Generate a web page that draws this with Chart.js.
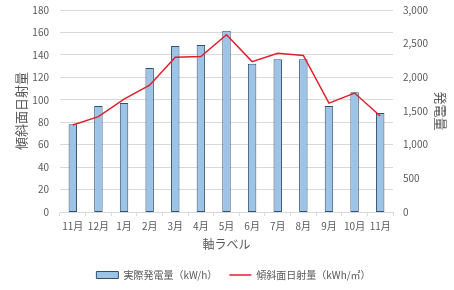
<!DOCTYPE html>
<html>
<head>
    <meta charset="utf-8">
    <title>発電量と傾斜面日射量</title>
    <script src="https://cdn.jsdelivr.net/npm/chart.js"></script>
    <style>
        body {
            margin: 0;
            background: #ffffff;
        }
        #box {
            width: 454px;
            height: 290px;
        }
    </style>
</head>
<body>
    <div id="box"><canvas id="chart"></canvas></div>
    <script>
        // データ
        const months = ["11月", "12月", "1月", "2月", "3月", "4月", "5月", "6月", "7月", "8月", "9月", "10月", "11月"];
        const hatsuden = [1305, 1575, 1620, 2140, 2465, 2480, 2690, 2200, 2270, 2270, 1575, 1780, 1470];
        const nissha = [77.5, 85, 100.5, 113, 138, 138.5, 158, 134, 141.5, 139.5, 97, 106, 85.5];
        const leftTicks = [0, 20, 40, 60, 80, 100, 120, 140, 160, 180];
        const rightTicks = [0, 500, 1000, 1500, 2000, 2500, 3000];

        const textColor = '#595959';
        const gridColor = '#d9d9d9';
        const jpFont = '"Noto Sans CJK JP", "Noto Sans", sans-serif';

        // 縦軸の余白をなくしてプロット上端を揃える
        function noVerticalPadding(scale) {
            scale.paddingTop = 0;
            scale.paddingBottom = 0;
        }

        const ctx = document.getElementById('chart').getContext('2d');
        const chart = new Chart(ctx, {
            data: {
                labels: months,
                datasets: [{
                    type: 'bar',
                    label: '実際発電量（kW/h）',
                    data: hatsuden,
                    yAxisID: 'y1',
                    backgroundColor: '#9dc3e6',
                    borderColor: '#34506f',
                    borderWidth: 1,
                    borderSkipped: false,
                    categoryPercentage: 1,
                    barPercentage: 0.33,
                    order: 2
                }, {
                    type: 'line',
                    label: '傾斜面日射量（kWh/㎡）',
                    data: nissha,
                    yAxisID: 'y',
                    borderColor: '#e21f2d',
                    backgroundColor: '#e21f2d',
                    borderWidth: 1.5,
                    pointRadius: 0,
                    tension: 0,
                    fill: false,
                    order: 1
                }]
            },
            options: {
                responsive: true,
                maintainAspectRatio: false,
                animation: false,
                layout: { padding: { top: 10, left: 13, right: 0, bottom: 0 } },
                scales: {
                    x: {
                        offset: true,
                        grid: {
                            offset: true,
                            drawOnChartArea: false,
                            drawTicks: true,
                            tickLength: 4,
                            color: gridColor
                        },
                        border: { display: true, color: gridColor },
                        ticks: {
                            color: textColor,
                            font: { family: jpFont, size: 10 },
                            padding: 4,
                            maxRotation: 0,
                            autoSkip: false
                        },
                        title: {
                            display: true,
                            text: '軸ラベル',
                            color: textColor,
                            font: { family: jpFont, size: 12 },
                            padding: { top: 2, bottom: 6 }
                        },
                        afterFit: function (scale) { scale.height = 46; }
                    },
                    y: {
                        position: 'left',
                        min: 0,
                        max: 180,
                        afterBuildTicks: function (scale) {
                            scale.ticks = leftTicks.map(v => ({ value: v }));
                        },
                        grid: { color: gridColor, drawTicks: false },
                        border: { display: false },
                        ticks: {
                            color: textColor,
                            font: { family: jpFont, size: 10 },
                            padding: 11
                        },
                        title: {
                            display: true,
                            text: '傾斜面日射量',
                            color: textColor,
                            font: { family: jpFont, size: 13 },
                            padding: { top: 0, bottom: 0 }
                        },
                        afterFit: function (scale) {
                            scale.width = 47;
                            noVerticalPadding(scale);
                        }
                    },
                    y1: {
                        position: 'right',
                        min: 0,
                        max: 3000,
                        afterBuildTicks: function (scale) {
                            scale.ticks = rightTicks.map(v => ({ value: v }));
                        },
                        grid: { display: false, drawTicks: false },
                        border: { display: false },
                        ticks: {
                            color: textColor,
                            font: { family: jpFont, size: 10 },
                            padding: 10,
                            callback: v => v.toLocaleString('en-US')
                        },
                        title: {
                            display: true,
                            text: '発電量',
                            color: textColor,
                            font: { family: jpFont, size: 13 },
                            padding: { top: 5, bottom: 5 }
                        },
                        afterFit: function (scale) {
                            scale.width = 61;
                            noVerticalPadding(scale);
                        }
                    }
                },
                plugins: {
                    legend: {
                        position: 'bottom',
                        labels: {
                            color: textColor,
                            font: { family: jpFont, size: 10 },
                            usePointStyle: true,
                            pointStyleWidth: 22,
                            boxHeight: 7,
                            padding: 12,
                            generateLabels: function (c) {
                                return c.data.datasets.map((ds, i) => ({
                                    text: ds.label,
                                    fillStyle: ds.backgroundColor,
                                    strokeStyle: ds.borderColor,
                                    lineWidth: ds.type === 'bar' ? 1 : 1.5,
                                    pointStyle: ds.type === 'bar' ? 'rect' : 'line',
                                    fontColor: textColor,
                                    datasetIndex: i
                                }));
                            }
                        }
                    },
                    tooltip: { enabled: false }
                }
            }
        });
    </script>
</body>
</html>
